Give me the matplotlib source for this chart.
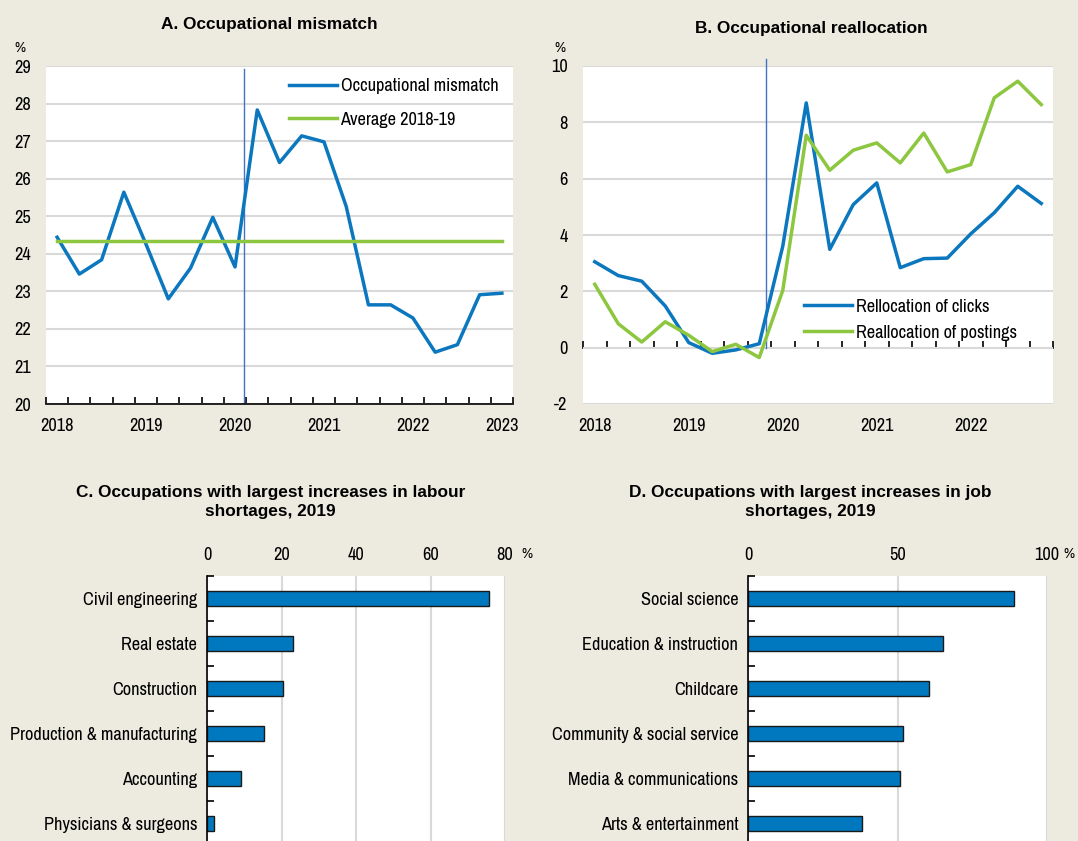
import numpy as np
import matplotlib
matplotlib.use("Agg")
import matplotlib.pyplot as plt
from matplotlib import font_manager

# .. pick a condensed sans face, the chart uses an Arial Narrow look
cands = ['Liberation Sans Narrow', 'Arial Narrow', 'Archivo Narrow', 'PT Sans Narrow',
         'Roboto Condensed', 'Open Sans Condensed', 'Liberation Sans']
avail = {f.name for f in font_manager.fontManager.ttflist}
narrow = next(c for c in cands if c in avail)
plt.rcParams['font.family'] = [narrow, 'Liberation Sans', 'DejaVu Sans']
plt.rcParams['axes.unicode_minus'] = False

# .. colours
bg = '#EDEBE0'
blue = '#0B77BE'
green = '#8DC63F'
grid = '#D9D9D9'

# .. panel A: occupational mismatch, quarterly 2018Q1 - 2023Q1
quarters_a = [f"{y}-Q{q}" for y in range(2018, 2023) for q in range(1, 5)] + ["2023-Q1"]
mismatch = [24.44, 23.46, 23.84, 25.64, 24.25, 22.80, 23.62, 24.97, 23.65, 27.83, 26.43,
            27.14, 26.98, 25.26, 22.64, 22.64, 22.29, 21.38, 21.58, 22.91, 22.95]
avg_1819 = 24.35
covid_a = 8.42

# .. panel B: occupational reallocation, quarterly 2018Q1 - 2022Q4
quarters_b = [f"{y}-Q{q}" for y in range(2018, 2023) for q in range(1, 5)]
clicks = [3.05, 2.56, 2.36, 1.48, 0.18, -0.20, -0.08, 0.14, 3.60, 8.69,
          3.49, 5.08, 5.85, 2.84, 3.16, 3.18, 4.04, 4.79, 5.73, 5.12]
postings = [2.25, 0.85, 0.20, 0.92, 0.44, -0.14, 0.12, -0.35, 2.03, 7.54,
            6.30, 7.01, 7.27, 6.56, 7.62, 6.24, 6.50, 8.87, 9.46, 8.63]
covid_b = 7.27

# .. panel C and D: bars
occ_c = ['Civil engineering', 'Real estate', 'Construction',
         'Production & manufacturing', 'Accounting', 'Physicians & surgeons']
val_c = [75.7, 23.2, 20.3, 15.3, 9.2, 1.8]
occ_d = ['Social science', 'Education & instruction', 'Childcare',
         'Community & social service', 'Media & communications', 'Arts & entertainment']
val_d = [88.9, 65.1, 60.7, 51.7, 50.9, 38.2]

fs = 13.2

fig = plt.figure(figsize=(10.78, 8.41), dpi=100, facecolor=bg)
W, H = 1078, 841


def box(l, t, r, b):
    return [l / W, 1 - b / H, (r - l) / W, (b - t) / H]


def year_axis(ax, labels, every=4):
    n = len(labels)
    x = np.arange(n)
    ax.set_xlim(-0.5, n - 0.5)
    ax.set_xticks(x[::every])
    ax.set_xticklabels([s[:4] for s in labels[::every]])
    ax.set_xticks(np.arange(-0.5, n), minor=True)
    ax.tick_params(axis='x', which='major', length=0, labelsize=fs, pad=10)
    ax.tick_params(axis='x', which='minor', direction='in', length=5, width=1.2)
    return x


def style_line_ax(ax):
    ax.set_facecolor('white')
    for s in ['top', 'right', 'left']:
        ax.spines[s].set_visible(False)
    ax.tick_params(axis='y', length=0, labelsize=fs, pad=11)
    ax.yaxis.grid(True, color=grid, lw=1.5)
    ax.set_axisbelow(True)


leg_kw = dict(frameon=False, fontsize=fs, handlelength=2.6, handletextpad=0.2,
              borderaxespad=0)

# ---------------- A
axA = fig.add_axes(box(46, 66, 513, 404))
style_line_ax(axA)
xa = year_axis(axA, quarters_a)
axA.set_ylim(20, 29)
axA.set_yticks(range(20, 30))
axA.spines['bottom'].set_linewidth(1.2)
axA.axvline(covid_a, ymax=0.99, color='#4472C4', lw=1)
axA.plot(xa, mismatch, color=blue, lw=2.5, label='Occupational mismatch')
axA.plot(xa, [avg_1819] * len(xa), color=green, lw=2.5, label='Average 2018-19')
axA.legend(loc='upper left', bbox_to_anchor=(0.505, 0.985), labelspacing=0.95, **leg_kw)
axA.text(-0.055, 1.04, '%', transform=axA.transAxes, fontsize=11, ha='center')

# ---------------- B
axB = fig.add_axes(box(583, 66, 1053, 404))
style_line_ax(axB)
xb = year_axis(axB, quarters_b)
axB.set_ylim(-2, 10)
axB.set_yticks(range(-2, 11, 2))
axB.tick_params(axis='x', which='minor', length=0)
axB.spines['bottom'].set_visible(False)
zero = axB.secondary_xaxis(0, transform=axB.transData)
zero.set_xticks(np.arange(-0.5, len(xb)))
zero.tick_params(direction='in', length=5, width=1.2, labelbottom=False)
zero.spines['bottom'].set_linewidth(1.2)
axB.plot([covid_b, covid_b], [0, 10.25], color='#4472C4', lw=1, clip_on=False)
axB.plot(xb, clicks, color=blue, lw=2.5, label='Rellocation of clicks')
axB.plot(xb, postings, color=green, lw=2.5, label='Reallocation of postings')
axB.legend(loc='upper left', bbox_to_anchor=(0.455, 0.333), labelspacing=0.55, **leg_kw)
axB.text(-0.05, 1.04, '%', transform=axB.transAxes, fontsize=11, ha='center')


# ---------------- C and D
def bar_ax(ax, cats, vals, xmax, step):
    y = np.arange(len(cats))
    ax.set_facecolor('white')
    ax.barh(y, vals, height=0.35, color='#0078C0', edgecolor='#1a1a1a', lw=1)
    ax.set_ylim(len(cats) - 0.5, -0.5)
    ax.set_xlim(0, xmax)
    ax.set_xticks(np.arange(0, xmax + 1, step))
    ax.xaxis.set_ticks_position('top')
    ax.tick_params(axis='x', length=0, labelsize=fs, pad=9)
    ax.set_yticks(y)
    ax.set_yticklabels(cats)
    ax.set_yticks(np.arange(-0.5, len(cats)), minor=True)
    ax.tick_params(axis='y', which='major', length=0, labelsize=fs, pad=7)
    ax.tick_params(axis='y', which='minor', direction='in', length=5, width=1.2)
    ax.xaxis.grid(True, color=grid, lw=1.5)
    ax.set_axisbelow(True)
    for s in ['top', 'right', 'bottom']:
        ax.spines[s].set_visible(False)
    ax.spines['left'].set_linewidth(1.2)
    ax.annotate('%', xy=(1, 1), xycoords='axes fraction', xytext=(12, 15.5),
                textcoords='offset points', fontsize=11, ha='left', va='center')


axC = fig.add_axes(box(207, 576, 505, 846))
bar_ax(axC, occ_c, val_c, 80, 20)
axD = fig.add_axes(box(748, 576, 1047, 846))
bar_ax(axD, occ_d, val_d, 100, 50)

# .. titles, bold Arial look
tkw = dict(fontsize=12.4, fontweight='bold', ha='center', va='center',
           family=['Liberation Sans', 'DejaVu Sans'])
fig.text(0.25, 1 - 25 / H, 'A. Occupational mismatch', **tkw)
fig.text(0.753, 1 - 28 / H, 'B. Occupational reallocation', **tkw)
fig.text(0.251, 1 - 502 / H, 'C. Occupations with largest increases in labour\nshortages, 2019',
         linespacing=1.3, **tkw)
fig.text(0.752, 1 - 502 / H, 'D. Occupations with largest increases in job\nshortages, 2019',
         linespacing=1.3, **tkw)

fig.savefig('out.png', dpi=100, facecolor=bg)
